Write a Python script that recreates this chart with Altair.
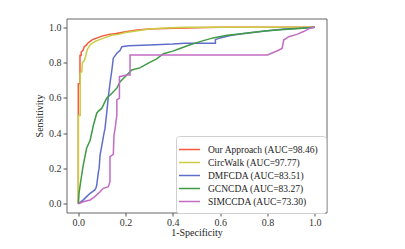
import altair as alt
import pandas as pd

names = ["Our Approach (AUC=98.46)", "CircWalk (AUC=97.77)", "DMFCDA (AUC=83.51)",
         "GCNCDA (AUC=83.27)", "SIMCCDA (AUC=73.30)"]
colors = ["#F5583A", "#CCCC44", "#5F6FC9", "#409A46", "#C26CC2"]

ours_x = [0, 0, 0.007, 0.007, 0.012, 0.012, 0.02, 0.025, 0.035, 0.04, 0.05, 0.06, 0.08, 0.1, 0.13, 0.16, 0.2, 0.25, 0.3, 0.4, 0.6, 1.0]
ours_y = [0, 0.68, 0.68, 0.84, 0.84, 0.86, 0.87, 0.89, 0.9, 0.91, 0.92, 0.93, 0.94, 0.95, 0.96, 0.965, 0.975, 0.985, 0.99, 0.995, 1.0, 1.0]

circ_x = [0, 0, 0.008, 0.008, 0.015, 0.017, 0.025, 0.03, 0.035, 0.04, 0.05, 0.06, 0.07, 0.09, 0.11, 0.14, 0.17, 0.2, 0.25, 0.3, 0.35, 0.45, 1.0]
circ_y = [0, 0.5, 0.5, 0.74, 0.75, 0.8, 0.81, 0.83, 0.86, 0.88, 0.9, 0.91, 0.92, 0.93, 0.94, 0.955, 0.96, 0.97, 0.98, 0.99, 0.995, 1.0, 1.0]

dmf_x = [0, 0.02, 0.035, 0.05, 0.07, 0.075, 0.078, 0.085, 0.088, 0.092, 0.1, 0.106, 0.113, 0.12, 0.127, 0.134, 0.142, 0.148, 0.163, 0.177, 0.184, 0.212, 0.3, 0.4, 0.45, 0.58, 0.58, 0.6, 0.643, 0.7, 0.77, 0.87, 0.95, 1.0]
dmf_y = [0, 0.02, 0.04, 0.059, 0.078, 0.09, 0.106, 0.18, 0.2, 0.276, 0.333, 0.38, 0.428, 0.513, 0.607, 0.683, 0.758, 0.825, 0.853, 0.87, 0.89, 0.896, 0.9, 0.905, 0.91, 0.91, 0.93, 0.94, 0.953, 0.965, 0.976, 0.99, 0.995, 1.0]

gcn_x = [0, 0.003, 0.01, 0.021, 0.035, 0.05, 0.064, 0.078, 0.085, 0.099, 0.12, 0.142, 0.163, 0.177, 0.205, 0.226, 0.26, 0.3, 0.33, 0.36, 0.4, 0.43, 0.47, 0.515, 0.57, 0.63, 0.7, 0.8, 0.9, 1.0]
gcn_y = [0, 0.06, 0.125, 0.22, 0.314, 0.36, 0.446, 0.513, 0.525, 0.54, 0.598, 0.626, 0.655, 0.692, 0.73, 0.758, 0.77, 0.8, 0.82, 0.85, 0.865, 0.88, 0.9, 0.919, 0.94, 0.955, 0.965, 0.98, 0.99, 1.0]

sim_x = [0, 0.021, 0.05, 0.07, 0.092, 0.106, 0.127, 0.134, 0.134, 0.148, 0.151, 0.155, 0.163, 0.163, 0.174, 0.174, 0.205, 0.219, 0.219, 0.8, 0.84, 0.862, 0.869, 0.89, 0.925, 0.953, 0.98, 1.0]
sim_y = [0, 0.011, 0.021, 0.04, 0.068, 0.087, 0.096, 0.125, 0.267, 0.28, 0.39, 0.418, 0.503, 0.588, 0.598, 0.72, 0.73, 0.73, 0.843, 0.843, 0.866, 0.88, 0.928, 0.947, 0.96, 0.976, 0.995, 1.0]

ticks = [0.0, 0.2, 0.4, 0.6, 0.8, 1.0]

rows = []
for name, xs, ys in zip(names, [ours_x, circ_x, dmf_x, gcn_x, sim_x], [ours_y, circ_y, dmf_y, gcn_y, sim_y]):
    for i, (a, b) in enumerate(zip(xs, ys)):
        rows.append({"model": name, "fpr": a, "tpr": b, "idx": i})
df = pd.DataFrame(rows)

FONT = "Liberation Serif"

chart = alt.Chart(df).mark_line(strokeWidth=1.5).encode(
    x=alt.X("fpr:Q", title="1-Specificity",
            scale=alt.Scale(domain=[-0.05, 1.05], nice=False, zero=False),
            axis=alt.Axis(values=ticks, format=".1f", titlePadding=0, labelPadding=1)),
    y=alt.Y("tpr:Q", title="Sensitivity",
            scale=alt.Scale(domain=[-0.05, 1.05], nice=False, zero=False),
            axis=alt.Axis(values=ticks, format=".1f", titlePadding=4, labelPadding=2)),
    color=alt.Color("model:N", scale=alt.Scale(domain=names, range=colors),
                    legend=alt.Legend(title=None, orient="none", legendX=109.5, legendY=117.5)),
    order=alt.Order("idx:Q"),
).properties(
    width=260, height=194,
    autosize=alt.AutoSizeParams(type="none"),
    padding={"left": 58.5, "top": 10.5, "right": 60, "bottom": 30},
).configure_view(
    stroke="#666666", strokeWidth=1
).configure_axis(
    domain=False, grid=False, tickColor="#555555", tickSize=3.5,
    labelFont=FONT, labelFontSize=10, labelColor="#333333",
    titleFont=FONT, titleFontSize=10, titleFontWeight="normal", titleColor="#222222",
).configure_legend(
    labelFont=FONT, labelFontSize=9.5, labelColor="#222222",
    symbolType="M-1.83,0H1.83", symbolSize=132, symbolStrokeWidth=1.5,
    labelOffset=12, rowPadding=2, padding=7,
    fillColor="white", strokeColor="#d0d0d0", cornerRadius=3,
)

chart.save("out.html", embed_options={"renderer": "svg", "actions": False})
